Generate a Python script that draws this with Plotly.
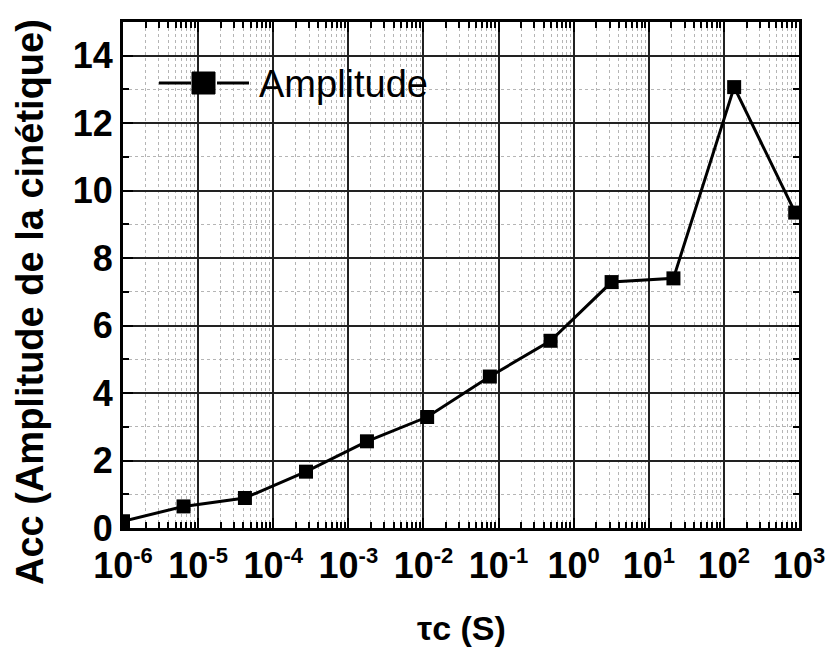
import plotly.graph_objects as go

# ---- data ----
tau_c = [1e-6, 6.4e-6, 4.2e-5, 2.73e-4, 1.77e-3, 1.12e-2, 7.66e-2, 0.493, 3.2, 21.3, 137, 890]
amplitude = [0.2, 0.64, 0.89, 1.67, 2.57, 3.29, 4.49, 5.55, 7.29, 7.40, 13.07, 9.35]
series_name = "Amplitude"

x_tick_exponents = [-6, -5, -4, -3, -2, -1, 0, 1, 2, 3]
y_tick_values = [0, 2, 4, 6, 8, 10, 12, 14]

x_title = "τc (S)"
y_title = "Acc (Amplitude de la cinétique)"

# ---- figure ----
W, H = 827, 656
ML, MR, MT, MB = 123, 28, 22, 128
PW, PH = W - ML - MR, H - MT - MB


def px_x(p):
    """page x pixel -> paper x"""
    return (p - ML) / PW


def px_y(p):
    """page y pixel -> paper y"""
    return (H - MB - p) / PH


tick_font = dict(family="Liberation Sans", size=36, color="black", weight="bold")

fig = go.Figure()
fig.add_trace(go.Scatter(
    x=tau_c, y=amplitude, name=series_name,
    mode="lines+markers",
    line=dict(color="black", width=3),
    marker=dict(symbol="square", size=14, color="black"),
    cliponaxis=True,
    showlegend=False,
))

minor_x = [m * 10.0 ** e for e in range(-6, 3) for m in range(2, 10)]

# legend key: line - marker - line, then the series name
legend_y = 83
shapes = [
    dict(type="line", xref="paper", yref="paper", x0=px_x(159), x1=px_x(191),
         y0=px_y(legend_y), y1=px_y(legend_y), line=dict(color="black", width=3)),
    dict(type="line", xref="paper", yref="paper", x0=px_x(217), x1=px_x(249),
         y0=px_y(legend_y), y1=px_y(legend_y), line=dict(color="black", width=3)),
    dict(type="rect", xref="paper", yref="paper", x0=px_x(192), x1=px_x(215),
         y0=px_y(legend_y + 11), y1=px_y(legend_y - 11),
         fillcolor="black", line=dict(color="black", width=1)),
]

fig.update_layout(
    width=W, height=H,
    margin=dict(l=ML, r=MR, t=MT, b=MB),
    paper_bgcolor="white", plot_bgcolor="white",
    showlegend=False,
    xaxis=dict(
        type="log", range=[-6, 3],
        tickmode="array",
        tickvals=[10.0 ** e for e in x_tick_exponents],
        ticktext=[f"10<sup><span style='font-size:22px'>{e}</span></sup>" for e in x_tick_exponents],
        tickfont=tick_font, tickangle=0, ticklabelstandoff=4,
        ticks="inside", ticklen=10, tickwidth=2, tickcolor="black",
        showline=True, linewidth=3, linecolor="black", mirror="allticks",
        showgrid=True, gridcolor="#222222", gridwidth=1.5,
        zeroline=False, automargin=False,
        minor=dict(
            tickmode="array", tickvals=minor_x,
            ticks="inside", ticklen=6, tickwidth=2, tickcolor="black",
            showgrid=True, gridcolor="#b5b5b5", griddash="dot", gridwidth=1,
        ),
    ),
    yaxis=dict(
        range=[0, 15],
        tickmode="array", tickvals=y_tick_values,
        tickfont=tick_font,
        ticks="inside", ticklen=10, tickwidth=2, tickcolor="black",
        showline=True, linewidth=3, linecolor="black", mirror="allticks",
        showgrid=True, gridcolor="#222222", gridwidth=1.5,
        zeroline=False, automargin=False,
        minor=dict(
            dtick=1, tick0=0,
            ticks="inside", ticklen=6, tickwidth=2, tickcolor="black",
            showgrid=True, gridcolor="#b5b5b5", griddash="dot", gridwidth=1,
        ),
    ),
    shapes=shapes,
    annotations=[
        dict(text=series_name, xref="paper", yref="paper",
             x=px_x(257), y=px_y(legend_y + 1), xanchor="left", yanchor="middle",
             showarrow=False,
             font=dict(family="Liberation Sans", size=38, color="black")),
        dict(text=y_title, xref="paper", yref="paper",
             x=px_x(30), y=px_y(302),
             xanchor="center", yanchor="middle", textangle=-90, showarrow=False,
             font=dict(family="Liberation Sans", size=38, color="black", weight="bold")),
        dict(text=x_title, xref="paper", yref="paper",
             x=px_x(461), y=px_y(628),
             xanchor="center", yanchor="middle", showarrow=False,
             font=dict(family="Liberation Sans", size=34, color="black", weight="bold")),
    ],
)

# remove the page's default body margin so the figure fills the window exactly
fig.write_html(
    "out.html",
    config={"displayModeBar": False},
    post_script="document.body.style.margin='0';document.body.style.overflow='hidden';",
)
